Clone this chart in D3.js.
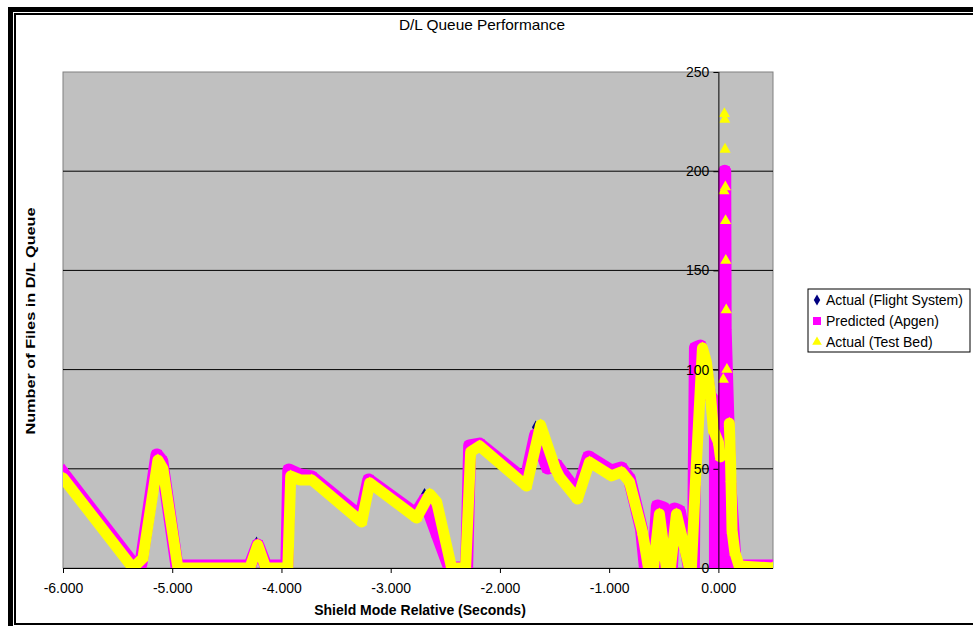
<!DOCTYPE html>
<html><head><meta charset="utf-8">
<script src="https://cdn.jsdelivr.net/npm/d3@7"></script>
<style>body{margin:0;background:#fff} svg{display:block} text{font-family:"Liberation Sans",Arial,sans-serif;fill:#000}</style>
</head><body><svg id="c" width="973" height="626"></svg>
<script>
const chartTitle = "D/L Queue Performance";
const xAxisTitle = "Shield Mode Relative (Seconds)";
const yAxisTitle = "Number of Files in D/L Queue";
const seriesNames = ["Actual (Flight System)", "Predicted (Apgen)", "Actual (Test Bed)"];
const xTicks = [-6, -5, -4, -3, -2, -1, 0];
const yTicks = [0, 50, 100, 150, 200, 250];

const flightX = [-4.228, -2.690, -1.672, -0.232, -0.005];
const flightY = [12.5, 37, 71, 56, 71];

const predX = [-6.000, -5.342, -5.287, -5.140, -5.095, -4.957, -4.290, -4.217, -4.143, -3.951, -3.933, -3.832, -3.723, -3.274, -3.201, -2.771, -2.689, -2.579, -2.460, -2.305, -2.277, -2.186, -1.765, -1.674, -1.564, -1.482, -1.290, -1.189, -0.979, -0.887, -0.814, -0.704, -0.668, -0.595, -0.558, -0.503, -0.476, -0.430, -0.402, -0.357, -0.265, -0.229, -0.210, -0.165, -0.119, -0.082, -0.027, -0.027, 0.058, 0.058, 0.062, 0.105, 0.155, 0.494];
const predY = [47.9, 1, 2, 57, 53.9, 1, 1, 11.6, 1, 1, 49.4, 46.9, 45.9, 25.7, 44.4, 27.2, 34.3, 17.7, 0, 0, 61.5, 62.5, 43.9, 67, 50.4, 51.9, 37.8, 56, 48.9, 50.4, 44.9, 19.7, 0, 0, 31.3, 30.3, 0, 0, 29.8, 28.7, 0, 0, 110.9, 111.9, 102.3, 87.2, 83.2, 0, 0, 200, 120, 42.5, 1, 1];

const testX = [-6.000, -5.360, -5.268, -5.131, -5.085, -4.948, -4.290, -4.217, -4.143, -3.942, -3.915, -3.832, -3.723, -3.265, -3.192, -2.762, -2.643, -2.579, -2.442, -2.314, -2.268, -2.186, -1.756, -1.628, -1.491, -1.454, -1.290, -1.180, -0.979, -0.887, -0.814, -0.695, -0.640, -0.595, -0.540, -0.476, -0.439, -0.384, -0.265, -0.247, -0.210, -0.146, -0.110, -0.073, -0.046, 0.000, 0.018, 0.045, 0.050, 0.055, 0.058, 0.061, 0.064, 0.066, 0.068, 0.072, 0.078, 0.100, 0.110, 0.115, 0.120, 0.125, 0.150, 0.190, 0.494];
const testY = [45.4, 0, 5, 54.4, 50, 0, 0, 11.6, 0, 0, 46.4, 44.4, 44.4, 23.2, 42.9, 25.2, 37.3, 33.3, 0, 0, 58.5, 61.5, 41.3, 72.1, 49.9, 45.9, 34.8, 53.4, 46.4, 48.4, 43.4, 18.2, 0, 0, 27.2, 0, 0, 27.2, 0, 0, 43.4, 110.9, 103.8, 87.7, 69.6, 63.5, 56, 95, 190, 229, 226, 211, 192, 175, 155, 130, 100, 73, 57, 45, 33, 19, 8, 1, 0];

const svg = d3.select("#c");
const W = 973, H = 626;
const L = 63, R = 773, T = 72, B = 568;
const x = d3.scaleLinear().domain([-6, 0.5]).range([L, R]);
const y = d3.scaleLinear().domain([0, 250]).range([B, T]);
const fmt = d => d3.format(".3f")(d).replace("\u2212", "-");

// frame
svg.append("rect").attr("x", 8).attr("y", 7).attr("width", 5).attr("height", H - 7).attr("fill", "#000");
svg.append("rect").attr("x", 8).attr("y", 7).attr("width", W - 8).attr("height", 5).attr("fill", "#000");
svg.append("rect").attr("x", 15).attr("y", 14).attr("width", W + 10).attr("height", 610)
  .attr("fill", "none").attr("stroke", "#000").attr("stroke-width", 2);

// title
svg.append("text").attr("transform", "translate(482,30) scale(1.1,1)").attr("text-anchor", "middle")
  .style("font-size", "14px").text(chartTitle);

// plot area
svg.append("rect").attr("x", L).attr("y", T).attr("width", R - L).attr("height", B - T)
  .attr("fill", "#c0c0c0").attr("stroke", "#808080").attr("stroke-width", 1);

svg.append("defs").append("clipPath").attr("id", "clip")
  .append("rect").attr("x", L).attr("y", T).attr("width", R - L).attr("height", B - T);

// gridlines
svg.append("g").selectAll("line").data(yTicks.filter(d => d > 0 && d < 250)).join("line")
  .attr("x1", L).attr("x2", R).attr("y1", d => y(d)).attr("y2", d => y(d))
  .attr("stroke", "#000").attr("stroke-width", 1);

const plot = svg.append("g").attr("clip-path", "url(#clip)");
const line = d3.line().x(d => x(d[0])).y(d => y(d[1]));
const pred = predX.map((v, i) => [v, predY[i]]);
const test = testX.map((v, i) => [v, testY[i]]);
const flight = flightX.map((v, i) => [v, flightY[i]]);
// the dense test-bed band is broken where the samples are sparse (the spike near 0.05 s)
const testBefore = test.filter(d => d[0] <= 0.02);
const testAfter = test.filter(d => d[0] >= 0.1);

plot.selectAll("path.fl").data(flight).join("path").attr("class", "fl")
  .attr("d", d3.symbol(d3.symbolDiamond, 50))
  .attr("transform", d => `translate(${x(d[0])},${y(d[1])})`).attr("fill", "#000080");

plot.append("path").datum(pred).attr("d", line).attr("fill", "none")
  .attr("stroke", "#ff00ff").attr("stroke-width", 13).attr("stroke-linejoin", "round").attr("stroke-linecap", "square");
plot.selectAll("rect.pm").data(pred).join("rect").attr("class", "pm")
  .attr("x", d => x(d[0]) - 5).attr("y", d => y(d[1]) - 5).attr("width", 10).attr("height", 10).attr("fill", "#ff00ff");

[testBefore, testAfter].forEach(seg => {
  plot.append("path").datum(seg).attr("d", line).attr("fill", "none")
    .attr("stroke", "#ffff00").attr("stroke-width", 11).attr("stroke-linejoin", "round").attr("stroke-linecap", "round");
});
plot.selectAll("path.tm").data(test).join("path").attr("class", "tm")
  .attr("d", d3.symbol(d3.symbolTriangle, 55))
  .attr("transform", d => `translate(${x(d[0])},${y(d[1])})`).attr("fill", "#ffff00");

// x axis
const xAxis = d3.axisBottom(x).tickValues(xTicks).tickSize(5).tickPadding(10).tickFormat(fmt);
const gx = svg.append("g").attr("transform", `translate(0,${B})`).call(xAxis);
gx.select(".domain").attr("d", `M${L},0.5H${R}`).attr("stroke", "#000");
gx.selectAll("text").style("font-size", "14px").style("font-family", "'Liberation Sans',Arial,sans-serif");

// y axis at x = 0
const yAxis = d3.axisLeft(y).tickValues(yTicks).tickSize(5).tickPadding(4);
const gy = svg.append("g").attr("transform", `translate(${x(0)},0)`).call(yAxis);
gy.select(".domain").attr("d", `M0.5,${T}V${B}`).attr("stroke", "#000");
gy.selectAll("text").style("font-size", "14px").style("font-family", "'Liberation Sans',Arial,sans-serif");

// axis titles
svg.append("text").attr("x", 420).attr("y", 615).attr("text-anchor", "middle")
  .style("font-size", "14px").style("font-weight", "bold").text(xAxisTitle);
svg.append("text").attr("transform", "translate(35,321) rotate(-90) scale(1.25,1)").attr("text-anchor", "middle")
  .style("font-size", "13px").style("font-weight", "bold").text(yAxisTitle);

// legend
const lg = svg.append("g").attr("transform", "translate(808,289)");
lg.append("rect").attr("x", 0).attr("y", 0).attr("width", 162).attr("height", 63)
  .attr("fill", "#fff").attr("stroke", "#000").attr("stroke-width", 1);
const ly = [11, 32, 53];
lg.append("path").attr("d", d3.symbol(d3.symbolDiamond, 36)).attr("transform", `translate(9,${ly[0]})`).attr("fill", "#000080");
lg.append("rect").attr("x", 5).attr("y", ly[1] - 4).attr("width", 8).attr("height", 8).attr("fill", "#ff00ff");
lg.append("path").attr("d", d3.symbol(d3.symbolTriangle, 40)).attr("transform", `translate(9,${ly[2]})`).attr("fill", "#ffff00");
lg.selectAll("text.lt").data(seriesNames).join("text").attr("class", "lt")
  .attr("x", 18).attr("y", (d, i) => ly[i] + 5).style("font-size", "14px").text(d => d);
</script></body></html>
